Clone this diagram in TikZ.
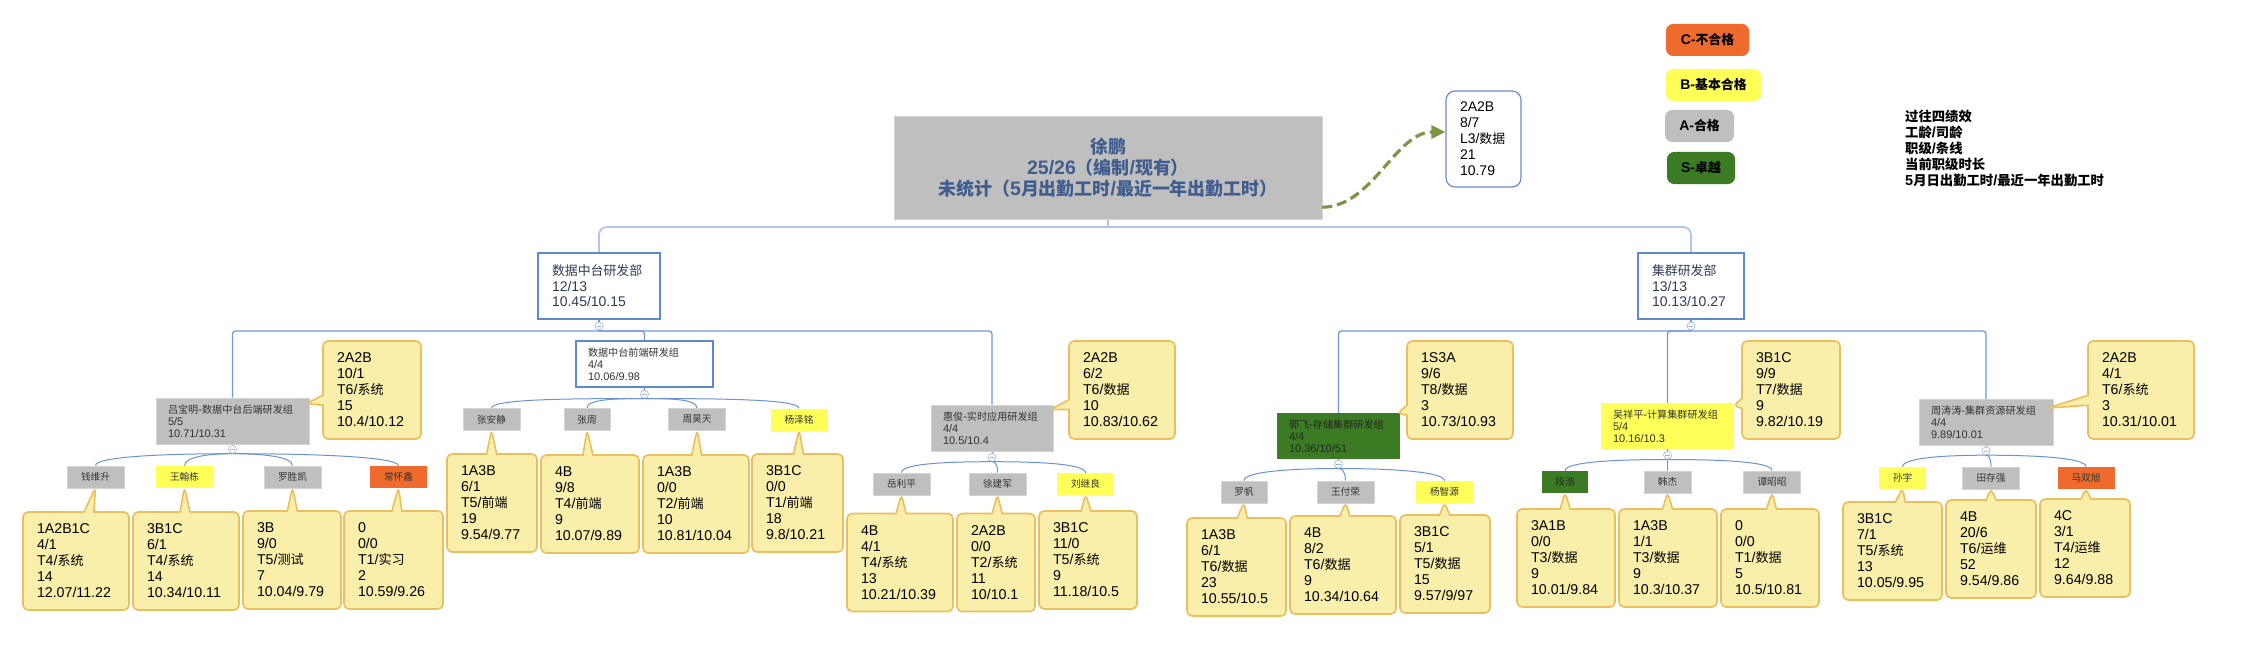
\documentclass[tikz,border=0pt]{standalone}
\usepackage{fontspec}
\setmainfont{Liberation Sans}
\newfontfamily\latn{Liberation Sans}
\newfontfamily\cjk{Noto Sans CJK SC}[Scale=0.92]
\usetikzlibrary{calc,arrows.meta,shapes.callouts}
\pgfdeclarelayer{fond}
\pgfdeclarelayer{liens}
\pgfsetlayers{fond,liens,main}
% Police CJK pour les caractères chinois
\XeTeXinterchartokenstate=1
\chardef\cjkcl=42
\newcount\cjkc
\cjkc="2E80
\loop \XeTeXcharclass\cjkc=\cjkcl \advance\cjkc by 1 \ifnum\cjkc<"A000 \repeat
\cjkc="FF00
\loop \XeTeXcharclass\cjkc=\cjkcl \advance\cjkc by 1 \ifnum\cjkc<"FFF0 \repeat
\XeTeXinterchartoks 0 \cjkcl = {\cjk}
\XeTeXinterchartoks 4095 \cjkcl = {\cjk}
\XeTeXinterchartoks \cjkcl 0 = {\latn}
\XeTeXinterchartoks \cjkcl 4095 = {\latn}
\definecolor{grisA}{HTML}{BFBFBF}
\definecolor{grisL}{HTML}{D4D4D4}
\definecolor{jauneB}{HTML}{FFFF57}
\definecolor{orangeC}{HTML}{EE6B2D}
\definecolor{vertS}{HTML}{3B7B23}
\definecolor{noteF}{HTML}{F9EEAA}
\definecolor{noteB}{HTML}{ECBF5E}
\definecolor{bleuC}{HTML}{AEC6EA}
\definecolor{bleuM}{HTML}{7099D8}
\definecolor{bleuL}{HTML}{6A92D6}
\definecolor{bleuD}{HTML}{5E8ACD}
\definecolor{bleuH}{HTML}{6C8BCB}
\definecolor{bleuT}{HTML}{3F5D8E}
\definecolor{bleuP}{HTML}{9AB4E0}
\definecolor{encre}{HTML}{333333}
\definecolor{marine}{HTML}{2E3B56}
\definecolor{vertF}{HTML}{7C9646}
\newcommand{\fsz}[2]{\fontsize{#1}{#2}\selectfont}
\newcommand{\relie}[2]{\draw[lien] let \p1=(#1.south), \p2=(#2.north) in (\p1) .. controls ({0.5*\x1+0.5*\x2},\y1) and (\x2,{\y2+9pt}) .. (\p2);}

\begin{document}
\begin{tikzpicture}[x=1pt,y=-1pt]
    % Organigramme

    %
    % Définitions
    %
    \pgfmathsetmacro{\ybus}{227};%
    \pgfmathsetmacro{\ybras}{331};%
    \pgfmathsetmacro{\ynote}{390};%

    %
    % Styles
    %
    \tikzset{%
        racine/.style={fill=grisA, draw=grisL, minimum width=428pt, minimum height=103pt, align=center, text=bleuT, font=\bfseries\fsz{19.5}{21}},%
        haut/.style={draw=bleuH, line width=1.2pt, rounded corners=9pt, minimum height=96pt, inner xsep=14pt, text width=47pt, align=left, font=\fsz{14}{16}},%
        dept/.style={draw=bleuD, line width=2pt, fill=white, inner xsep=14pt, minimum height=66pt, align=left, text=marine, font=\fsz{14}{15.5}},%
        groupe/.style={inner xsep=12pt, minimum height=46pt, text width=#1, align=left, text=encre, font=\fsz{11}{11.8}},%
        membre/.style={minimum width=57pt, minimum height=22pt, inner sep=0pt, text=encre, font=\fsz{10.5}{12}},%
        note/.style={rectangle callout, fill=noteF, draw=noteB, line width=1.6pt, rounded corners=5pt, callout pointer width=10pt, inner xsep=14pt, inner ysep=0pt, minimum height=98pt, text width=#1, align=left, font=\fsz{14.2}{16}},%
        pli/.style={circle, draw=bleuP, fill=white, line width=0.6pt, minimum size=8pt, inner sep=0pt, path picture={\draw[bleuP, line width=0.6pt] ([xshift=-2.2pt]path picture bounding box.center) -- ([xshift=2.2pt]path picture bounding box.center);}},%
        legende/.style={rounded corners=7pt, minimum height=32pt, inner sep=0pt, font=\bfseries\fsz{14}{16}},%
        gris/.style={fill=grisA, draw=grisL, line width=0.8pt},%
        jaune/.style={fill=jauneB},%
        rouge/.style={fill=orangeC},%
        vert/.style={fill=vertS},%
        bus/.style={draw=bleuC, line width=1.8pt, rounded corners=8pt},%
        bras/.style={draw=bleuM, line width=1.3pt, rounded corners=3pt},%
        lien/.style={draw=bleuL, line width=1pt},%
        fleche/.style={-{Triangle[length=14pt,width=13pt]}, draw=vertF, line width=3.2pt, dash pattern=on 10pt off 5pt}%
    };%

    \useasboundingbox (0,0) rectangle (2246,650);%
    \begin{pgfonlayer}{fond}
        \fill[white] (0,0) rectangle (2246,650);%
    \end{pgfonlayer}

    %
    % Dessin
    %
    % Direction
    \node[racine] (root) at (1108,167.5) {徐鹏\\25/26（编制/现有）\\未统计（5月出勤工时/最近一年出勤工时）};%
    \node[haut] (top) at (1483.5,139) {2A2B\\8/7\\L3/数据\\21\\10.79};%
    \draw[fleche] ([yshift=12pt]root.south east) .. controls +(50,0) and +(-50,0) .. ([yshift=7pt]top.west);%

    % Légende
    \node[legende, rouge, minimum width=83pt] (lc) at (1707.5,40) {C-不合格};%
    \node[legende, jaune, minimum width=95pt] (lb) at (1713.5,85) {B-基本合格};%
    \node[legende, gris, draw=none, minimum width=69pt] (la) at (1699.5,126) {A-合格};%
    \node[legende, vert, minimum width=68pt] (ls) at (1701,168) {S-卓越};%
    \node[anchor=west, inner sep=0pt, align=left, font=\bfseries\fsz{14.5}{15.8}] (lt) at (1905,148.5) {过往四绩效\\工龄/司龄\\职级/条线\\当前职级时长\\5月日出勤工时/最近一年出勤工时};%

    % Départements
    \node[dept, text width=94pt] (d1) at (599,286) {数据中台研发部\\12/13\\10.45/10.15};%
    \node[dept, text width=78pt] (d2) at (1691,286) {集群研发部\\13/13\\10.13/10.27};%
    \coordinate (t0) at (root.south |- 0,\ybus);%
    \coordinate (b1) at (d1.south |- 0,\ybras);%
    \coordinate (b2) at (d2.south |- 0,\ybras);%

    % Groupes
    \node[groupe=129pt, gris] (g1) at (232.5,421) {吕宝明-数据中台后端研发组\\5/5\\10.71/10.31};%
    \node[groupe=113pt, draw=bleuD, line width=2.5pt, fill=white] (g2) at (644.5,364) {数据中台前端研发组\\4/4\\10.06/9.98};%
    \node[groupe=98pt, gris] (g3) at (992,428) {惠俊-实时应用研发组\\4/4\\10.5/10.4};%
    \node[groupe=99pt, vert, text=black!85] (g4) at (1338.5,436) {郭飞-存储集群研发组\\4/4\\10.36/10/51};%
    \node[groupe=109pt, jaune] (g5) at (1667.5,426) {吴祥平-计算集群研发组\\5/4\\10.16/10.3};%
    \node[groupe=110pt, gris] (g6) at (1986,422.5) {周涛涛-集群资源研发组\\4/4\\9.89/10.01};%

    % Boutons de repli
    \node[pli] (p1) at ($(d1.south)+(0,6)$) {};%
    \node[pli] (p2) at ($(d2.south)+(0,6)$) {};%
    \node[pli] (q1) at ($(g1.south)+(0,5)$) {};%
    \node[pli] (q2) at ($(g2.south)+(0,6)$) {};%
    \node[pli] (q3) at ($(g3.south)+(0,6)$) {};%
    \node[pli] (q4) at ($(g4.south)+(0,5)$) {};%
    \node[pli] (q5) at ($(g5.south)+(0,6)$) {};%
    \node[pli] (q6) at ($(g6.south)+(0,5)$) {};%

    % Membres
    \node[membre, gris] (m1) at (95.5,477) {钱维升};%
    \node[membre, jaune] (m2) at (184.5,477) {王翰栋};%
    \node[membre, gris] (m3) at (292.5,477) {罗胜凯};%
    \node[membre, rouge] (m4) at (398.5,477) {常怀鑫};%
    \node[membre, gris] (m5) at (491.5,419.5) {张安静};%
    \node[membre, gris, minimum width=46pt] (m6) at (587,419.5) {张周};%
    \node[membre, gris] (m7) at (697,419.5) {周昊天};%
    \node[membre, jaune] (m8) at (799,419.5) {杨泽铭};%
    \node[membre, gris] (m9) at (901.5,484) {岳利平};%
    \node[membre, gris] (m10) at (997.5,484) {徐建军};%
    \node[membre, jaune] (m11) at (1085.5,484) {刘继良};%
    \node[membre, gris, minimum width=46pt] (m12) at (1244,492) {罗帆};%
    \node[membre, gris] (m13) at (1345.5,492) {王付荣};%
    \node[membre, jaune] (m14) at (1444.5,492) {杨智源};%
    \node[membre, vert, text=black!85, minimum width=46pt] (m15) at (1565,482) {段浩};%
    \node[membre, gris, minimum width=47pt] (m16) at (1667.5,482) {韩杰};%
    \node[membre, gris] (m17) at (1772,482) {谭昭昭};%
    \node[membre, jaune, minimum width=47pt] (m18) at (1902.5,478) {孙宇};%
    \node[membre, gris] (m19) at (1991,478) {田存强};%
    \node[membre, rouge] (m20) at (2086,478) {马双旭};%

    % Notes des groupes
    \node[note=70pt, callout absolute pointer={([xshift=-3pt,yshift=-6pt]g1.north east)}] (ng1) at (372,\ynote) {2A2B\\10/1\\T6/系统\\15\\10.4/10.12};%
    \node[note=78pt, callout absolute pointer={([xshift=-3pt,yshift=-5pt]g3.north east)}] (ng3) at (1122,\ynote) {2A2B\\6/2\\T6/数据\\10\\10.83/10.62};%
    \node[note=78pt, callout absolute pointer={([xshift=-3pt,yshift=-1pt]g4.north east)}] (ng4) at (1460,\ynote) {1S3A\\9/6\\T8/数据\\3\\10.73/10.93};%
    \node[note=70pt, callout absolute pointer={([xshift=-1pt,yshift=-3pt]g5.north east)}] (ng5) at (1791,\ynote) {3B1C\\9/9\\T7/数据\\9\\9.82/10.19};%
    \node[note=78pt, callout absolute pointer={([xshift=-6pt,yshift=-9pt]g6.north east)}] (ng6) at (2141,\ynote) {2A2B\\4/1\\T6/系统\\3\\10.31/10.01};%

    % Notes des membres
    \node[note=78pt, callout absolute pointer={([yshift=1pt]m1.south)}] (n1) at (76,561) {1A2B1C\\4/1\\T4/系统\\14\\12.07/11.22};%
    \node[note=78pt, callout absolute pointer={([yshift=1pt]m2.south)}] (n2) at (186,561) {3B1C\\6/1\\T4/系统\\14\\10.34/10.11};%
    \node[note=70pt, callout absolute pointer={([yshift=1pt]m3.south)}] (n3) at (292,560) {3B\\9/0\\T5/测试\\7\\10.04/9.79};%
    \node[note=71pt, callout absolute pointer={([yshift=1pt]m4.south)}] (n4) at (393.5,560) {0\\0/0\\T1/实习\\2\\10.59/9.26};%
    \node[note=62pt, callout absolute pointer={([yshift=1pt]m5.south)}] (n5) at (492,503) {1A3B\\6/1\\T5/前端\\19\\9.54/9.77};%
    \node[note=70pt, callout absolute pointer={([yshift=1pt]m6.south)}] (n6) at (590,504) {4B\\9/8\\T4/前端\\9\\10.07/9.89};%
    \node[note=78pt, callout absolute pointer={([yshift=1pt]m7.south)}] (n7) at (696,504) {1A3B\\0/0\\T2/前端\\10\\10.81/10.04};%
    \node[note=63pt, callout absolute pointer={([yshift=1pt]m8.south)}] (n8) at (797.5,503) {3B1C\\0/0\\T1/前端\\18\\9.8/10.21};%
    \node[note=78pt, callout absolute pointer={([yshift=1pt]m9.south)}] (n9) at (900,562.5) {4B\\4/1\\T4/系统\\13\\10.21/10.39};%
    \node[note=50pt, callout absolute pointer={([yshift=1pt]m10.south)}] (n10) at (996,562.5) {2A2B\\0/0\\T2/系统\\11\\10/10.1};%
    \node[note=70pt, callout absolute pointer={([yshift=1pt]m11.south)}] (n11) at (1088,560) {3B1C\\11/0\\T5/系统\\9\\11.18/10.5};%
    \node[note=71pt, callout absolute pointer={([yshift=1pt]m12.south)}] (n12) at (1236.5,567) {1A3B\\6/1\\T6/数据\\23\\10.55/10.5};%
    \node[note=78pt, callout absolute pointer={([yshift=1pt]m13.south)}] (n13) at (1343,565) {4B\\8/2\\T6/数据\\9\\10.34/10.64};%
    \node[note=62pt, callout absolute pointer={([yshift=1pt]m14.south)}] (n14) at (1445,564) {3B1C\\5/1\\T5/数据\\15\\9.57/9/97};%
    \node[note=70pt, callout absolute pointer={([yshift=1pt]m15.south)}] (n15) at (1566,558) {3A1B\\0/0\\T3/数据\\9\\10.01/9.84};%
    \node[note=70pt, callout absolute pointer={([yshift=1pt]m16.south)}] (n16) at (1668,558) {1A3B\\1/1\\T3/数据\\9\\10.3/10.37};%
    \node[note=70pt, callout absolute pointer={([yshift=1pt]m17.south)}] (n17) at (1770,558) {0\\0/0\\T1/数据\\5\\10.5/10.81};%
    \node[note=71pt, callout absolute pointer={([yshift=1pt]m18.south)}] (n18) at (1892.5,551) {3B1C\\7/1\\T5/系统\\13\\10.05/9.95};%
    \node[note=62pt, callout absolute pointer={([yshift=1pt]m19.south)}] (n19) at (1991,549) {4B\\20/6\\T6/运维\\52\\9.54/9.86};%
    \node[note=62pt, callout absolute pointer={([yshift=1pt]m20.south)}] (n20) at (2085,548) {4C\\3/1\\T4/运维\\12\\9.64/9.88};%

    % Liaisons
    \begin{pgfonlayer}{liens}
        \draw[bus] (root.south) -- (t0);%
        \draw[bus] (t0) -| (d1.north);%
        \draw[bus] (t0) -| (d2.north);%
        % Départements vers groupes
        \draw[bras] (d1.south) -- (b1);%
        \draw[bras] (b1) -| (g1.north);%
        \draw[bras] (b1) -| (g2.north);%
        \draw[bras] (b1) -| (g3.north);%
        \draw[bras] (d2.south) -- (b2);%
        \draw[bras] (b2) -| (g4.north);%
        \draw[bras] (b2) -| (g5.north);%
        \draw[bras] (b2) -| (g6.north);%
        % Groupes vers membres
        \foreach \g in {1,...,6}{\draw[lien] (g\g.south) -- (q\g.center);}%
        \relie{q1}{m1}\relie{q1}{m2}\relie{q1}{m3}\relie{q1}{m4}%
        \relie{q2}{m5}\relie{q2}{m6}\relie{q2}{m7}\relie{q2}{m8}%
        \relie{q3}{m9}\relie{q3}{m10}\relie{q3}{m11}%
        \relie{q4}{m12}\relie{q4}{m13}\relie{q4}{m14}%
        \relie{q5}{m15}\relie{q5}{m16}\relie{q5}{m17}%
        \relie{q6}{m18}\relie{q6}{m19}\relie{q6}{m20}%
    \end{pgfonlayer}

\end{tikzpicture}
\end{document}
